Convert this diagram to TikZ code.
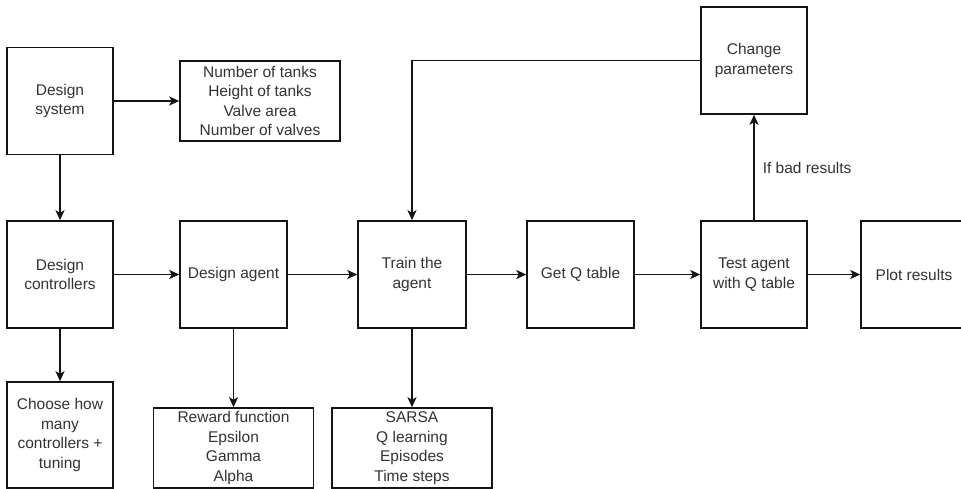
\documentclass[tikz,border=0pt]{standalone}
\usepackage{fontspec}
\setmainfont{Liberation Sans}
\usetikzlibrary{arrows.meta}
\definecolor{ink}{HTML}{141414}
\definecolor{txt}{HTML}{333333}
\begin{document}
\begin{tikzpicture}[x=1pt,y=-1pt,
  box/.style={draw=ink,line width=1.5pt,fill=white,inner sep=0pt,
    align=center,text=txt,font=\fontsize{15.5}{19.5}\selectfont},
  sq/.style={box,minimum width=106pt,minimum height=107pt},
  wide/.style={box,minimum width=160pt,minimum height=80pt},
  flow/.style={draw=ink,line width=1.5pt,
    -{Stealth[length=10pt,width=9pt,inset=2.5pt]}},
  lbl/.style={text=txt,font=\fontsize{15.5}{19.5}\selectfont,inner sep=0pt}]
\useasboundingbox (0,0) rectangle (961,489);
\clip (0,0) rectangle (961,489);

% upper left: system design and its parameters
\node[sq] (sys) at (60,101) {Design\\system};
\node[wide] (par) at (260,101) {Number of tanks\\Height of tanks\\Valve area\\Number of valves};

% main row
\node[sq] (ctl) at (60,274.5) {Design\\controllers};
\node[sq,minimum width=107pt] (agt) at (233.5,274.5) {Design agent};
\node[sq,minimum width=108pt] (trn) at (412,274.5) {Train the\\agent};
\node[sq,minimum width=107pt] (getq) at (580.5,274.5) {Get Q table};
\node[sq] (tst) at (754,274.5) {Test agent\\with Q table};
\node[sq] (plt) at (914,274.5) {Plot results};

% detail boxes below, feedback box above
\node[sq,minimum height=106pt] (cho) at (60,435) {Choose how\\many\\controllers +\\tuning};
\node[wide] (rew) at (233.5,448) {Reward function\\Epsilon\\Gamma\\Alpha};
\node[wide] (alg) at (412,448) {SARSA\\Q learning\\Episodes\\Time steps};
\node[sq] (chg) at (754,60.5) {Change\\parameters};

% connectors
\draw[flow] (sys.east) -- (par.west);
\draw[flow] (sys.south) -- (ctl.north);
\draw[flow] (ctl.south) -- (cho.north);
\draw[flow] (ctl.east) -- (agt.west);
\draw[flow] (agt.south) -- (rew.north);
\draw[flow] (agt.east) -- (trn.west);
\draw[flow] (trn.south) -- (alg.north);
\draw[flow] (trn.east) -- (getq.west);
\draw[flow] (getq.east) -- (tst.west);
\draw[flow] (tst.east) -- (plt.west);
\draw[flow] (tst.north) -- node[lbl,anchor=west,xshift=8pt,pos=0.5] (bad) {If bad results} (chg.south);
\draw[flow] (chg.west) -- (trn.north |- chg.west) -- (trn.north);
\end{tikzpicture}
\end{document}
